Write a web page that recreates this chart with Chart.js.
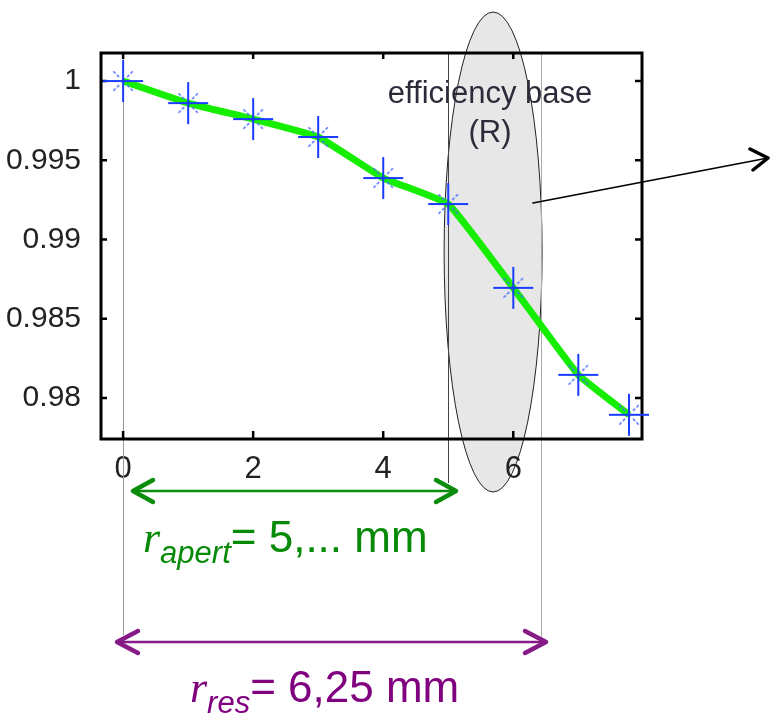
<!DOCTYPE html>
<html>
<head>
<meta charset="utf-8">
<script src="https://cdn.jsdelivr.net/npm/chart.js@4.4.1/dist/chart.umd.min.js"></script>
<style>
  html, body { margin: 0; padding: 0; background: #fff; }
  #wrap { width: 770px; height: 715px; }
</style>
</head>
<body>
<div id="wrap"><canvas id="chart" width="770" height="715"></canvas></div>
<script>
// values
var xValues = [0, 1, 2, 3, 4, 5, 6, 7, 7.78];
var efficiency = [1.0000, 0.99861, 0.99760, 0.99647, 0.99388, 0.99224, 0.98695, 0.98146, 0.97894];
var xTicks = [0, 2, 4, 6];
var yTicks = [0.98, 0.985, 0.99, 0.995, 1];
var markerX = { start: 0, apert: 5, res: 6.42, ellipse: 5.69 };

var points = xValues.map(function (x, i) { return { x: x, y: efficiency[i] }; });

// blue asterisk marker
function starMarker() {
    var c = document.createElement('canvas');
    c.width = 46; c.height = 46;
    var g = c.getContext('2d');
    var m = 23;
    g.strokeStyle = '#1a3cff';
    g.lineWidth = 2;
    g.beginPath();
    g.moveTo(m - 20, m); g.lineTo(m + 20, m);
    g.moveTo(m, m - 21); g.lineTo(m, m + 21);
    g.stroke();
    g.strokeStyle = '#4f70ff';
    g.lineWidth = 1.5;
    g.setLineDash([3, 2]);
    var d = [[1, 1], [1, -1], [-1, 1], [-1, -1]];
    d.forEach(function (v) {
        g.beginPath();
        g.moveTo(m + v[0] * 4, m + v[1] * 4);
        g.lineTo(m + v[0] * 11, m + v[1] * 11);
        g.stroke();
    });
    g.setLineDash([]);
    g.fillStyle = '#1a3cff';
    g.fillRect(m - 1.5, m - 1.5, 3, 3);
    return c;
}

function arrowHead(ctx, x, y, dir, dx, dy) {
    ctx.beginPath();
    ctx.moveTo(x - dir * dx, y - dy);
    ctx.lineTo(x, y);
    ctx.lineTo(x - dir * dx, y + dy);
    ctx.stroke();
}

function subLabel(ctx, x, y, main, sub, rest, color) {
    ctx.fillStyle = color;
    ctx.textAlign = 'left';
    ctx.textBaseline = 'alphabetic';
    ctx.font = 'italic 44px "Liberation Serif"';
    ctx.fillText(main, x, y);
    x += ctx.measureText(main).width;
    ctx.font = 'italic 31px "Liberation Sans"';
    ctx.fillText(sub, x, y + 11);
    x += ctx.measureText(sub).width;
    ctx.font = '44px "Liberation Sans"';
    ctx.fillText(rest, x, y);
}

var decor = {
    id: 'decor',
    beforeDraw: function (chart) {
        var ctx = chart.ctx;
        ctx.save();
        ctx.fillStyle = '#fff';
        ctx.fillRect(0, 0, chart.width, chart.height);
        var cx = chart.scales.x.getPixelForValue(markerX.ellipse);
        ctx.beginPath();
        ctx.ellipse(cx, 252, 49, 240, 0, 0, Math.PI * 2);
        ctx.fillStyle = '#e7e7e7';
        ctx.fill();
        ctx.strokeStyle = '#222';
        ctx.lineWidth = 1;
        ctx.stroke();
        ctx.restore();
    },
    beforeDatasetsDraw: function (chart) {
        var ctx = chart.ctx, a = chart.chartArea;
        var xs = chart.scales.x, ys = chart.scales.y;
        ctx.save();
        // text
        ctx.fillStyle = '#2b2b3a';
        ctx.font = '31px "Liberation Sans"';
        ctx.textAlign = 'center';
        ctx.textBaseline = 'alphabetic';
        ctx.fillText('efficiency base', 490, 103);
        ctx.fillText('(R)', 490, 142);
        // vertical guide lines
        ctx.lineWidth = 1;
        ctx.strokeStyle = '#999';
        var x0 = Math.round(xs.getPixelForValue(markerX.start)) + 0.5;
        ctx.beginPath(); ctx.moveTo(x0, a.top); ctx.lineTo(x0, 635); ctx.stroke();
        ctx.strokeStyle = '#444';
        var x5 = Math.round(xs.getPixelForValue(markerX.apert)) + 0.5;
        ctx.beginPath(); ctx.moveTo(x5, a.top - 1); ctx.lineTo(x5, 483); ctx.stroke();
        ctx.strokeStyle = '#aaa';
        var x6 = Math.round(xs.getPixelForValue(markerX.res)) + 0.5;
        ctx.beginPath(); ctx.moveTo(x6, a.top - 1); ctx.lineTo(x6, 637); ctx.stroke();
        // frame
        ctx.strokeStyle = '#000';
        ctx.lineWidth = 3;
        ctx.strokeRect(a.left, a.top, a.right - a.left, a.bottom - a.top);
        // inward ticks
        ctx.lineWidth = 2.5;
        ctx.beginPath();
        xTicks.forEach(function (v) {
            var px = xs.getPixelForValue(v);
            ctx.moveTo(px, a.bottom); ctx.lineTo(px, a.bottom - 8);
            ctx.moveTo(px, a.top); ctx.lineTo(px, a.top + 6);
        });
        yTicks.forEach(function (v) {
            var py = ys.getPixelForValue(v);
            ctx.moveTo(a.left, py); ctx.lineTo(a.left + 6, py);
            ctx.moveTo(a.right, py); ctx.lineTo(a.right - 7, py);
        });
        ctx.stroke();
        ctx.restore();
    },
    afterDraw: function (chart) {
        var ctx = chart.ctx;
        ctx.save();
        ctx.lineCap = 'round';
        ctx.lineJoin = 'round';
        // pointer from the ellipse
        ctx.strokeStyle = '#000';
        ctx.lineWidth = 1.6;
        ctx.beginPath(); ctx.moveTo(533, 203); ctx.lineTo(768, 158); ctx.stroke();
        ctx.lineWidth = 3.5;
        ctx.beginPath();
        ctx.moveTo(750, 149); ctx.lineTo(768, 158); ctx.lineTo(753, 170);
        ctx.stroke();
        // green span
        ctx.strokeStyle = '#0b8c0b';
        ctx.lineWidth = 2.5;
        ctx.beginPath(); ctx.moveTo(133, 491); ctx.lineTo(456, 491); ctx.stroke();
        ctx.lineWidth = 4.5;
        arrowHead(ctx, 133, 491, -1, 20, 11);
        arrowHead(ctx, 456, 491, 1, 20, 11);
        // purple span
        ctx.strokeStyle = '#861a86';
        ctx.lineWidth = 2.5;
        ctx.beginPath(); ctx.moveTo(117, 642); ctx.lineTo(546, 642); ctx.stroke();
        ctx.lineWidth = 4.5;
        arrowHead(ctx, 117, 642, -1, 21, 11);
        arrowHead(ctx, 546, 642, 1, 21, 11);
        // labels
        subLabel(ctx, 143, 552, 'r', 'apert', '= 5,... mm', '#078a07');
        subLabel(ctx, 190, 702, 'r', 'res', '= 6,25 mm', '#800080');
        ctx.restore();
    }
};

var ctx = document.getElementById('chart').getContext('2d');
var chart = new Chart(ctx, {
    type: 'scatter',
    data: {
        datasets: [{
            label: 'measured',
            data: points,
            pointStyle: starMarker(),
            pointRadius: 22,
            showLine: false,
            clip: false
        }, {
            label: 'fit',
            data: points,
            showLine: true,
            borderColor: '#15ee00',
            borderWidth: 7,
            tension: 0.1,
            pointRadius: 0,
            clip: false
        }]
    },
    options: {
        responsive: false,
        animation: false,
        events: [],
        layout: { padding: { top: 53, right: 128, left: 0, bottom: 0 } },
        plugins: { legend: { display: false }, tooltip: { enabled: false } },
        scales: {
            x: {
                type: 'linear',
                min: -0.34,
                max: 7.98,
                grid: { display: false },
                border: { display: false },
                afterBuildTicks: function (s) { s.ticks = xTicks.map(function (v) { return { value: v }; }); },
                afterFit: function (s) { s.height = 276; },
                ticks: {
                    padding: 4,
                    color: '#222',
                    font: { family: 'Liberation Sans', size: 31 },
                    maxRotation: 0
                }
            },
            y: {
                type: 'linear',
                min: 0.97741,
                max: 1.00177,
                grid: { display: false },
                border: { display: false },
                afterBuildTicks: function (s) { s.ticks = yTicks.map(function (v) { return { value: v }; }); },
                afterFit: function (s) { s.width = 101; },
                ticks: {
                    padding: 12,
                    color: '#222',
                    font: { family: 'Liberation Sans', size: 30 },
                    callback: function (v) { return String(+v.toFixed(3)); }
                }
            }
        }
    },
    plugins: [decor]
});
</script>
</body>
</html>
